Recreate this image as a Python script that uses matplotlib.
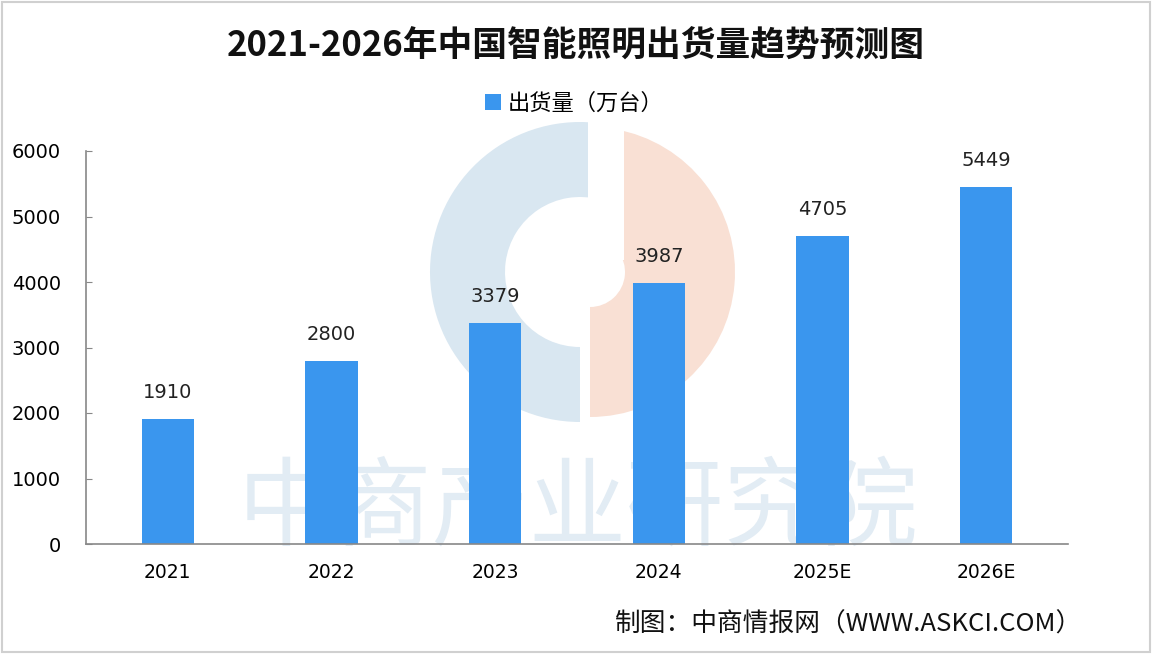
import matplotlib
matplotlib.use("Agg")
import matplotlib.pyplot as plt
from matplotlib.patches import Wedge, Rectangle

plt.rcParams['font.family'] = ['Noto Sans CJK SC', 'DejaVu Sans']

categories = ["2021", "2022", "2023", "2024", "2025E", "2026E"]
values = [1910, 2800, 3379, 3987, 4705, 5449]
yticks = [0, 1000, 2000, 3000, 4000, 5000, 6000]

title = "2021-2026年中国智能照明出货量趋势预测图"
series_name = "出货量（万台）"
source = "制图：中商情报网（WWW.ASKCI.COM）"

bar_color = "#3A96EE"

fig = plt.figure(figsize=(11.52, 6.54), dpi=100)
fig.patch.set_facecolor("white")

# watermark logo (decorative)
wm = fig.add_axes([0, 0, 1, 1], zorder=0)
wm.set_xlim(0, 1152)
wm.set_ylim(654, 0)
wm.axis("off")
wm.add_patch(Wedge((580, 272), 150, 90, 285, width=75, facecolor="#D9E7F1", edgecolor="none"))
wm.add_patch(Wedge((590, 272), 145, -80, 90, width=110, facecolor="#F9E0D4", edgecolor="none"))
wm.add_patch(Rectangle((588, 110), 36, 150, facecolor="white", edgecolor="none"))
wm.text(578, 510, "中商产业研究院", fontsize=70, color="#E2ECF4", ha="center", va="center")
wm.add_patch(Rectangle((2, 2), 1148, 650, facecolor="none", edgecolor="#D0D0D0", linewidth=1.5))

ax = fig.add_axes([86/1152, 1-544/654, (1068-86)/1152, (544-151)/654], zorder=1)
ax.patch.set_alpha(0)

x = range(len(categories))
bars = ax.bar(x, values, width=0.32, color=bar_color, label=series_name, zorder=2)
for xi, v in zip(x, values):
    ax.text(xi, v + 260, f"{v}", ha="center", va="bottom", fontsize=14,
            family=["DejaVu Sans"], color="#222222")

ax.set_xlim(-0.5, len(categories) - 0.5)
ax.set_ylim(0, 6000)
ax.set_yticks(yticks)
ax.set_yticklabels([str(t) for t in yticks], fontsize=14, family=["DejaVu Sans"])
ax.set_xticks(list(x))
ax.set_xticklabels(categories, fontsize=13.5, family=["DejaVu Sans"])
ax.tick_params(axis="y", direction="in", length=4, color="#888888", pad=18)
ax.tick_params(axis="x", length=0, pad=14)
for s in ["top", "right"]:
    ax.spines[s].set_visible(False)
for s in ["left", "bottom"]:
    ax.spines[s].set_color("#888888")
    ax.spines[s].set_linewidth(1.2)

fig.text(0.5, 1-45/654, title, ha="center", va="center", fontsize=25, fontweight="bold",
         color="#111111")
leg = fig.legend(handles=[bars], labels=[series_name], loc="center",
                 bbox_to_anchor=(574/1152, 1-103/654), frameon=False, fontsize=16,
                 handlelength=0.7, handleheight=0.7, handletextpad=0.3)

fig.text(1082/1152, 1-625/654, source, ha="right", va="center", fontsize=18.5, color="#111111")

fig.savefig("out.png", dpi=100)
